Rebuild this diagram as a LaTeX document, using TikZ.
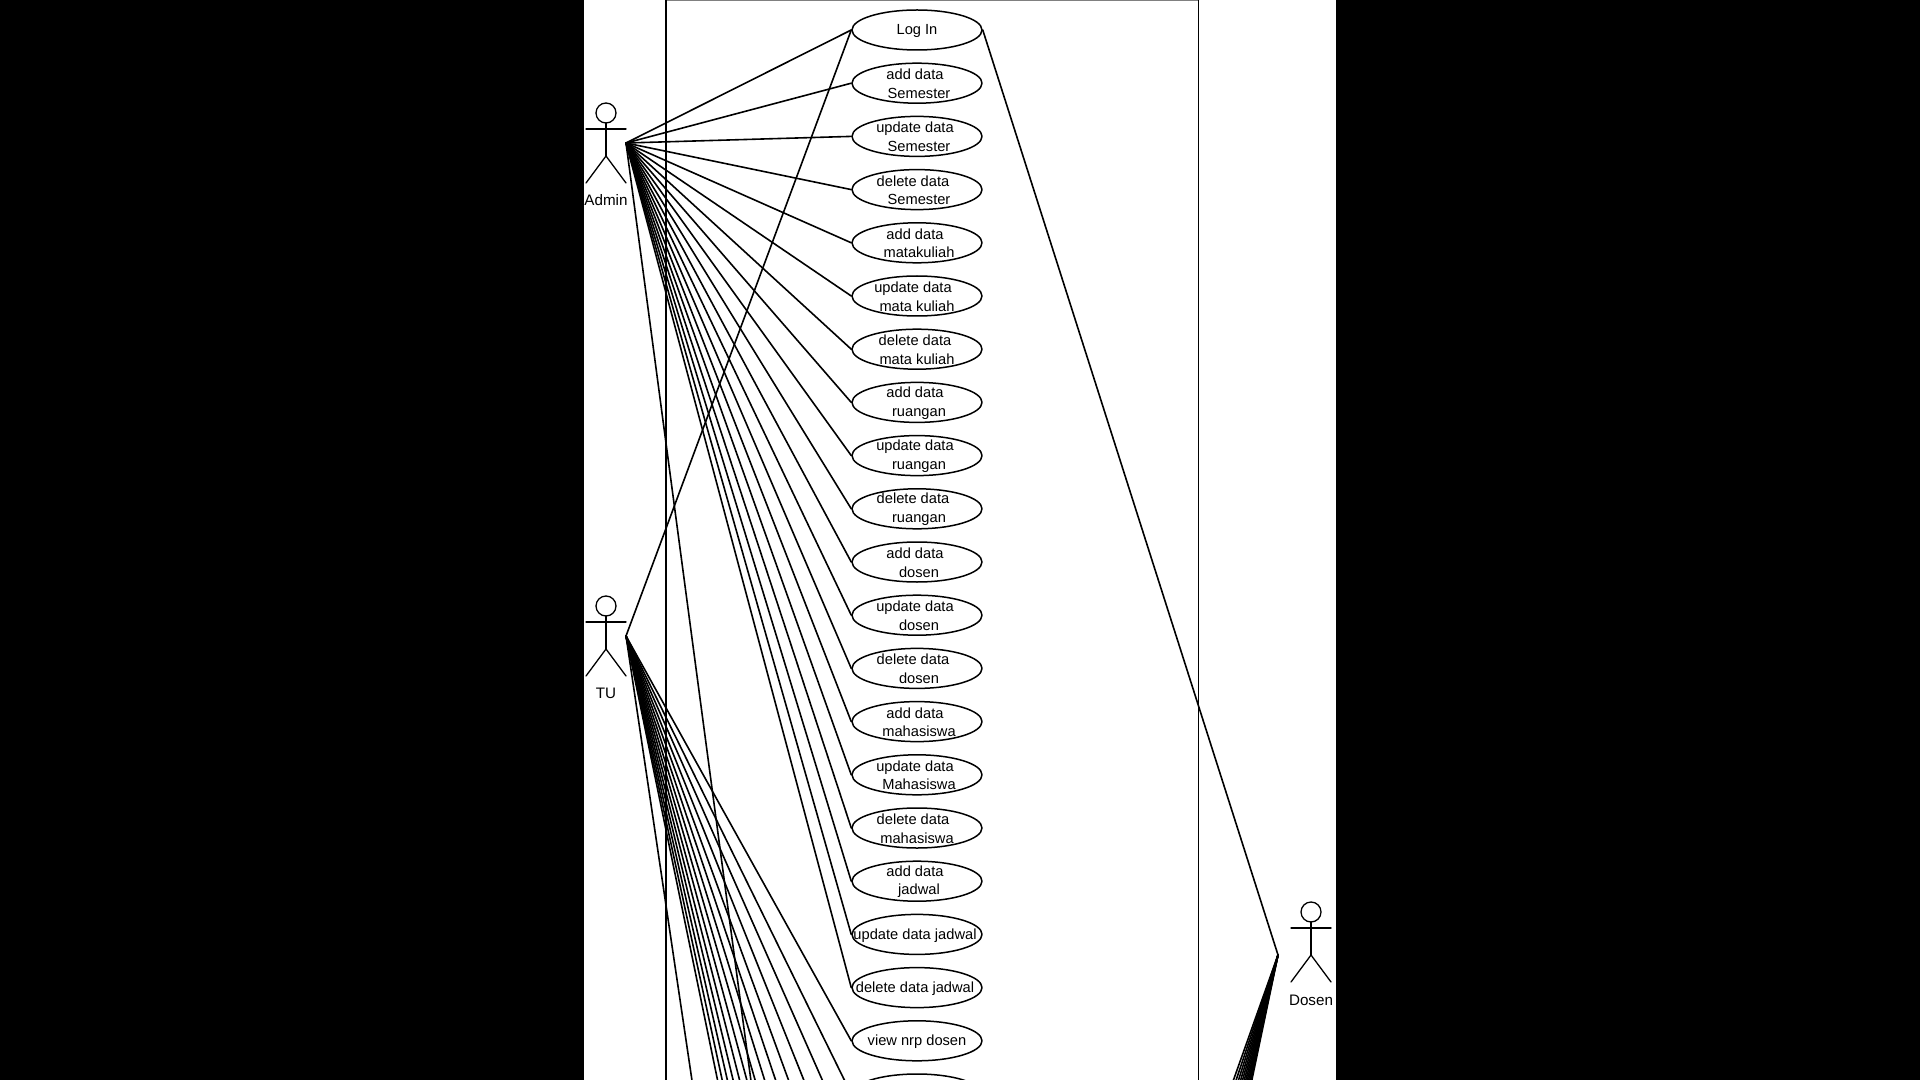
\documentclass[tikz,border=0pt]{standalone}
\usepackage{fontspec}
\setmainfont{Liberation Sans}
\usetikzlibrary{shapes.geometric}

\def\pad{\hspace*{2pt}}

\tikzset{
  uclink/.style={line width=0.8pt},
  uctext/.style={align=center, inner sep=0pt, yshift=-0.25pt, font=\fontsize{7.33}{9.33}\selectfont},
  ucshape/.style={ellipse, draw, line width=0.75pt, minimum width=65pt, minimum height=20pt, inner sep=0pt},
  ucase/.style={ucshape, label={[uctext]center:{#1}}},
  ucone/.style={ucshape, label={[uctext, yshift=-0.4pt]center:{#1}}},
  actorname/.style={inner sep=0pt, font=\fontsize{7.6}{9.33}\selectfont},
  actor/.pic={
    \draw[line width=0.65pt] (0,-16) circle[radius=10];
    \draw[line width=0.65pt] (-20,0) -- (20,0);
    \draw[line width=0.65pt] (0,-6) -- (0,27);
    \draw[line width=0.65pt] (-20,54) -- (0,27) -- (20,54);
  }
}

\begin{document}
\begin{tikzpicture}[x=0.5pt, y=-0.5pt, line cap=round, line join=round]

%-----------------------
% page: black bands, white sheet
%-----------------------
\path[use as bounding box, clip] (0,0) rectangle (1920,1080);
\fill[black] (0,0) rectangle (1920,1080);
\fill[white] (584,0) rectangle (1336,1080);

%-----------------------
% system box
%-----------------------
\draw[gray, line width=0.6pt] (666,0.5) -- (1198.5,0.5);
\draw[line width=0.65pt] (1198.5,0.5) -- (1198.5,1090);
\draw[line width=1pt] (666,0) -- (666,1090);

%-----------------------
% actors
%-----------------------
\pic at (606,129) {actor};
\pic at (606,622) {actor};
\pic at (1311,928) {actor};
\node[actorname] (adminname) at (606,200.5) {Admin};
\node[actorname] (tuname) at (606,693.5) {TU};
\node[actorname] (dosenname) at (1311,1000) {Dosen};

\coordinate (admin) at (626,143);
\coordinate (tu) at (626,636);
\coordinate (dosen) at (1278,955);

%-----------------------
% use cases
%-----------------------
\node[ucone={Log In}] (uc0) at (917,30) {};
\node[ucase={add data\pad\\\pad Semester}] (uc1) at (917,83.2) {};
\node[ucase={update data\pad\\\pad Semester}] (uc2) at (917,136.4) {};
\node[ucase={delete data\pad\pad\\\pad Semester}] (uc3) at (917,189.6) {};
\node[ucase={add data\pad\\\pad matakuliah}] (uc4) at (917,242.8) {};
\node[ucase={update data\pad\pad\\mata kuliah}] (uc5) at (917,296) {};
\node[ucase={delete data\pad\\mata kuliah}] (uc6) at (917,349.2) {};
\node[ucase={add data\pad\\\pad ruangan}] (uc7) at (917,402.4) {};
\node[ucase={update data\pad\\\pad ruangan}] (uc8) at (917,455.6) {};
\node[ucase={delete data\pad\pad\\\pad ruangan}] (uc9) at (917,508.8) {};
\node[ucase={add data\pad\\\pad dosen}] (uc10) at (917,562) {};
\node[ucase={update data\pad\\\pad dosen}] (uc11) at (917,615.2) {};
\node[ucase={delete data\pad\pad\\\pad dosen}] (uc12) at (917,668.4) {};
\node[ucase={add data\pad\\\pad mahasiswa}] (uc13) at (917,721.6) {};
\node[ucase={update data\pad\\\pad Mahasiswa}] (uc14) at (917,774.8) {};
\node[ucase={delete data\pad\pad\\mahasiswa}] (uc15) at (917,828) {};
\node[ucase={add data\pad\\\pad jadwal}] (uc16) at (917,881.2) {};
\node[ucone={update data jadwal\pad}] (uc17) at (917,934.4) {};
\node[ucone={delete data jadwal\pad}] (uc18) at (917,987.6) {};
\node[ucone={view nrp dosen}] (uc19) at (917,1040.8) {};
\node[ucshape] (uc20) at (917,1094) {};

%-----------------------
% links, the ones past the page end at coordinates
%-----------------------
\foreach \k in {0,...,18} {
  \draw[uclink] (admin) -- (uc\k.west);
}
\coordinate (adminoff) at (852,1839);
\draw[uclink] (admin) -- (adminoff);

\draw[uclink] (tu) -- (uc0.west);
\draw[uclink] (tu) -- (uc19.west);
\draw[uclink] (tu) -- (uc20.west);
\foreach \k in {21,...,32,40} {
  \coordinate (tuoff\k) at (852,{30+53.2*\k});
  \draw[uclink] (tu) -- (tuoff\k);
}

\draw[uclink] (dosen) -- (uc0.east);
\foreach \k in {33,...,44} {
  \coordinate (dosenoff\k) at (982,{30+53.2*\k});
  \draw[uclink] (dosen) -- (dosenoff\k);
}

\end{tikzpicture}
\end{document}
